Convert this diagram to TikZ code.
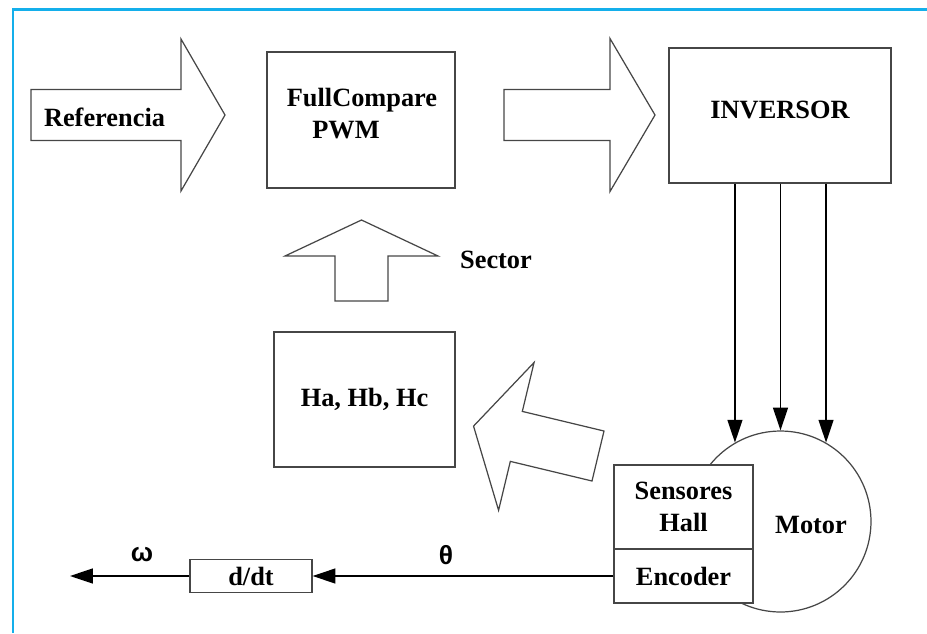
\documentclass[tikz,border=0pt]{standalone}
\usepackage{fontspec}
\setmainfont{Liberation Serif}
\newfontfamily\greekfont{Liberation Sans}
\usetikzlibrary{arrows.meta}
\definecolor{framecyan}{RGB}{20,175,235}
\definecolor{edgegray}{RGB}{70,70,70}

\begin{document}
\begin{tikzpicture}[x=0.02cm, y=-0.02cm, every node/.style={font=\fontsize{15}{18}\selectfont\bfseries}]
  \tikzset{
    box/.style={draw=edgegray, line width=0.7pt, fill=white, inner sep=0pt, align=center},
    block/.style={draw=edgegray, line width=0.7pt, line join=miter},
    flow/.style={-{Triangle[length=13pt, width=8.5pt]}, line width=0.9pt},
    pics/blockarrow/.style args={#1/#2/#3/#4}{code={
      \draw[block] (0,-#2) -- (#1,-#2) -- (#1,-#3) -- (#1+#4,0) -- (#1,#3) -- (#1,#2) -- (0,#2) -- cycle;
    }}
  }
  \useasboundingbox (0,0) rectangle (927,633);

  % frame
  \draw[framecyan, line width=1.2pt] (13,633) -- (13,9.5) -- (927,9.5);

  % big arrows
  \pic at (31,115) {blockarrow=150/25.5/76/44};
  \pic at (504,115) {blockarrow=106/25.5/76.5/45};
  \pic[rotate=90] at (361.5,301) {blockarrow=45/26.5/76.5/36};
  \pic[rotate=166.5] at (598,456) {blockarrow=84/25.7/76/44};
  \node (ref) at (104.5,117) {Referencia};
  \node (sector) at (496,260) {Sector};

  % blocks
  \node[box, minimum width=3.76cm, minimum height=2.72cm] (pwm) at (361,120) {};
  \node (pwm1) at (362,100) {FullCompare};
  \node (pwm2) at (346,130) {PWM};
  \node[box, minimum width=4.44cm, minimum height=2.70cm] (inv) at (780,115.5) {};
  \node (invtxt) at (780,110) {INVERSOR};
  \node[box, minimum width=3.62cm, minimum height=2.70cm] (hall3) at (364.5,399.5) {Ha, Hb, Hc};

  % motor with sensors
  \node[draw=edgegray, line width=0.7pt, circle, minimum size=3.62cm, inner sep=0pt] (motor) at (780.5,521.5) {};
  \node (motortxt) at (811,525) {Motor};
  \node[box, minimum width=2.78cm, minimum height=1.68cm] (hall) at (683.5,507) {Sensores\\Hall};
  \node[box, minimum width=2.78cm, minimum height=1.08cm] (enc) at (683.5,576) {Encoder};
  \foreach \a in {120,90,60}
    \draw[flow] (inv.south -| motor.\a) -- (motor.\a);

  % speed
  \node[box, minimum width=2.44cm, minimum height=0.66cm] (ddt) at (251,576) {d/dt};
  \coordinate (wout) at (70,576);
  \draw[flow] (enc.west) -- (ddt.east);
  \draw[flow] (ddt.west) -- (wout);
  \node (theta) at (446,555) {\greekfont θ};
  \node (omega) at (142,555) {\greekfont ω};
\end{tikzpicture}
\end{document}
